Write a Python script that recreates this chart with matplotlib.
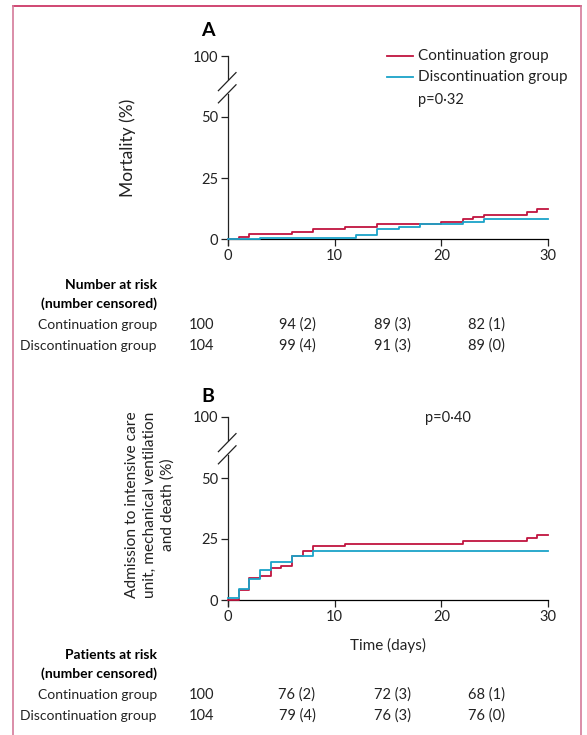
import matplotlib.pyplot as plt
from matplotlib.lines import Line2D

plt.rcParams['font.family'] = ['Lato', 'DejaVu Sans']

# Panel A: mortality (%)
a_cont_t = [0, 1, 2, 6, 8, 11, 14, 20, 22, 23, 24, 28, 29, 30]
a_cont_y = [0, 1, 2, 3, 4, 5, 6, 7, 8, 9, 10, 11, 12.3, 12.3]
a_disc_t = [0, 3, 12, 14, 16, 18, 22, 24, 30]
a_disc_y = [0, 0.6, 1.6, 3.9, 5.0, 6.0, 7.0, 8.1, 8.1]

# Panel B: ICU admission, mechanical ventilation and death (%)
b_cont_t = [0, 1, 2, 3, 4, 5, 6, 7, 8, 11, 22, 28, 29, 30]
b_cont_y = [0, 4, 9, 10, 13, 14, 18, 20, 22, 23, 24, 25.4, 26.5, 26.5]
b_disc_t = [0, 1, 2, 3, 4, 6, 8, 30]
b_disc_y = [0.7, 4.5, 8.6, 12.3, 15.4, 18.2, 20.2, 20.2]

groups = ['Continuation group', 'Discontinuation group']
a_risk = [['100', '94 (2)', '89 (3)', '82 (1)'],
          ['104', '99 (4)', '91 (3)', '89 (0)']]
b_risk = [['100', '76 (2)', '72 (3)', '68 (1)'],
          ['104', '79 (4)', '76 (3)', '76 (0)']]

RED = '#c0143f'
BLUE = '#1aa3c8'
INK = '#222222'
W, H = 587, 735

def px(x, y):
    return x / W, 1 - y / H

fig = plt.figure(figsize=(W / 100, H / 100), dpi=100)

def panel(top, bottom, ct, cy, dt, dy):
    l, b = px(228, bottom)
    r, t = px(548, top)
    ax = fig.add_axes([l, b, r - l, t - b])
    ax.step(ct, cy, where='post', color=RED, lw=1.3, clip_on=False, zorder=3)
    ax.step(dt, dy, where='post', color=BLUE, lw=1.3, clip_on=False, zorder=3)
    ax.set_xlim(0, 30)
    ax.set_ylim(0, 75)
    ax.set_xticks([0, 10, 20, 30])
    ax.set_yticks([0, 25, 50, 75])
    ax.set_yticklabels(['0', '25', '50', '100'])
    for s in ['top', 'right', 'left']:
        ax.spines[s].set_visible(False)
    ax.spines['bottom'].set_linewidth(0.9)
    ax.tick_params(direction='out', length=5, width=0.9, labelsize=10.5,
                   colors=INK, pad=2)
    # broken y axis
    tr = ax.get_yaxis_transform()
    ax.plot([0, 0], [-2.5, 59.5], color=INK, lw=0.9, transform=tr, clip_on=False)
    ax.plot([0, 0], [65.5, 75], color=INK, lw=0.9, transform=tr, clip_on=False)
    for yc in [59.5, 64.5]:
        ax.plot([-0.03, 0.025], [yc - 3.7, yc + 3.7], color=INK, lw=0.9,
                transform=tr, clip_on=False)
    return ax

axA = panel(56, 239, a_cont_t, a_cont_y, a_disc_t, a_disc_y)
axB = panel(417, 600, b_cont_t, b_cont_y, b_disc_t, b_disc_y)

# panel letters
fig.text(*px(208, 31), 'A', fontsize=14, fontweight='bold', ha='center', va='center')
fig.text(*px(208, 396), 'B', fontsize=14, fontweight='bold', ha='center', va='center')

# y labels
fig.text(*px(128, 148), 'Mortality (%)', rotation=90, fontsize=12.5,
         ha='center', va='center', color=INK)
fig.text(*px(150, 505), 'Admission to intensive care\nunit, mechanical ventilation\nand death (%)',
         rotation=90, fontsize=11.2, ha='center', va='center', color=INK,
         multialignment='center', linespacing=1.3)
fig.text(*px(388, 645), 'Time (days)', fontsize=11, ha='center', va='center', color=INK)

# legend
fig.add_artist(Line2D([387 / W, 413 / W], [1 - 56 / H] * 2, color=RED, lw=1.3))
fig.add_artist(Line2D([387 / W, 413 / W], [1 - 77 / H] * 2, color=BLUE, lw=1.3))
fig.text(*px(418, 56), groups[0], fontsize=11, va='center', color=INK)
fig.text(*px(418, 77), groups[1], fontsize=11, va='center', color=INK)
fig.text(*px(418, 100), 'p=0·32', fontsize=10.5, va='center', color=INK)
fig.text(*px(425, 418), 'p=0·40', fontsize=10.5, va='center', color=INK)

# number at risk tables
cols = [202, 297, 392, 486]

def risk_table(y0, title, rows):
    fig.text(*px(157, y0), title, fontsize=10, fontweight='bold', ha='right', va='center')
    fig.text(*px(157, y0 + 19), '(number censored)', fontsize=10, fontweight='bold',
             ha='right', va='center')
    for i, (g, vals) in enumerate(zip(groups, rows)):
        yy = y0 + 40 + 21 * i
        fig.text(*px(157, yy), g, fontsize=10, ha='right', va='center', color=INK)
        for c, v in zip(cols, vals):
            fig.text(*px(c, yy), v, fontsize=10.5, ha='center', va='center', color=INK)

risk_table(285, 'Number at risk', a_risk)
risk_table(655, 'Patients at risk', b_risk)

# pink frame
fig.add_artist(Line2D([13 / W, 581 / W], [1 - 6 / H] * 2, color='#c8285a', lw=1.2))
fig.add_artist(Line2D([13 / W, 13 / W], [1 - 6 / H, 0], color='#d47a9a', lw=1.2))
fig.add_artist(Line2D([581 / W, 581 / W], [1 - 6 / H, 0], color='#d47a9a', lw=1.2))

plt.savefig('out.png', dpi=100)
